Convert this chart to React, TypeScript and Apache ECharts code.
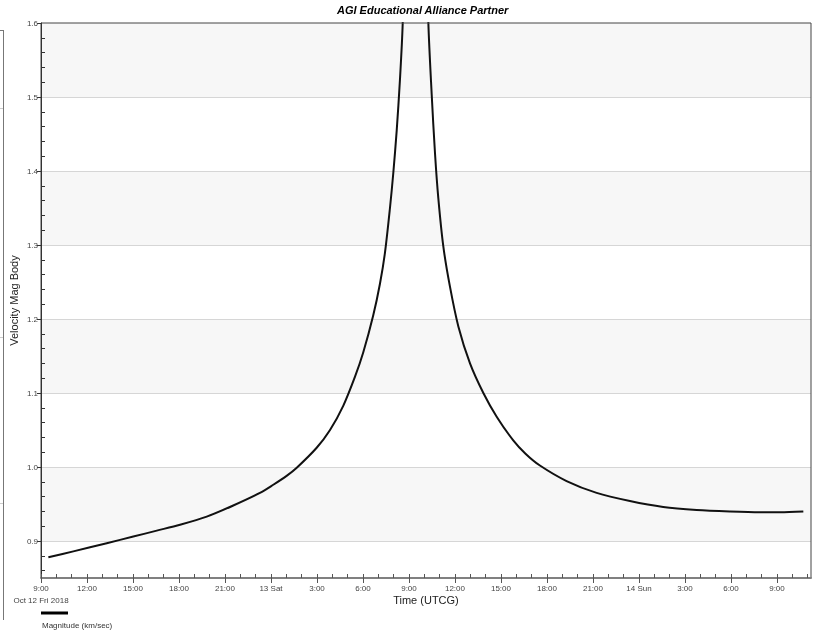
import React, { useEffect, useRef } from "react";
import * as echarts from "echarts";

// Hours since 2018-10-12 09:00 UTCG, and velocity magnitude (km/sec)
const hours = [
  0.48, 2.11, 4.29, 6.02, 7.55, 9.07, 10.81, 12.54, 14.28, 15.15, 16.02, 16.68,
  17.98, 18.85, 19.72, 20.48, 21.02, 21.67, 22.11, 22.43, 22.76, 22.98, 23.2,
  23.41, 23.59, 23.9, 24.2, 24.45, 24.7, 25.0, 25.26, 25.48, 25.7, 25.91, 26.24,
  26.67, 27.22, 27.98, 28.85, 29.72, 30.8, 31.6, 32.54, 34.28, 36.24, 38.41,
  40.58, 42.76, 44.93, 46.89, 48.2, 49.72,
];
const velocity = [
  0.878, 0.886, 0.897, 0.906, 0.914, 0.922, 0.933, 0.948, 0.965, 0.976, 0.988,
  0.999, 1.026, 1.05, 1.083, 1.122, 1.155, 1.205, 1.248, 1.289, 1.35, 1.398,
  1.455, 1.523, 1.599, 1.85, 2.2, 2.35, 2.2, 1.85, 1.603, 1.504, 1.423, 1.364,
  1.298, 1.244, 1.19, 1.14, 1.1, 1.068, 1.036, 1.018, 1.002, 0.981, 0.965,
  0.954, 0.946, 0.942, 0.94, 0.939, 0.939, 0.94,
];

const xTickHours = [0, 3, 6, 9, 12, 15, 18, 21, 24, 27, 30, 33, 36, 39, 42, 45, 48];
const xTickLabels = [
  "9:00\nOct 12 Fri 2018", "12:00", "15:00", "18:00", "21:00", "13 Sat", "3:00",
  "6:00", "9:00", "12:00", "15:00", "18:00", "21:00", "14 Sun", "3:00", "6:00", "9:00",
];
const yTickValues = [0.9, 1.0, 1.1, 1.2, 1.3, 1.4, 1.5, 1.6];
const yGridValues = [0.9, 1.0, 1.1, 1.2, 1.3, 1.4, 1.5];
const yBands = [
  [0.9, 1.0],
  [1.1, 1.2],
  [1.3, 1.4],
  [1.5, 1.6],
];
const xMin = 0;
const xMax = 50.22;
const yMin = 0.85;
const yMax = 1.6;

const FONT = "'Liberation Sans', Arial, sans-serif";

export default function App() {
  const ref = useRef<HTMLDivElement>(null);

  useEffect(() => {
    if (!ref.current) return;
    const chart = echarts.init(ref.current, undefined, { renderer: "svg" });

    const yMinor: number[] = [];
    for (let i = 86; i < 160; i += 2) {
      if (i % 10 !== 0) yMinor.push(i / 100);
    }
    const xMinor: number[] = [];
    for (let h = 0; h <= 50; h++) xMinor.push(h);

    const data = hours.map((h, i) => [h, velocity[i]]);

    chart.setOption({
      animation: false,
      title: {
        text: "AGI Educational Alliance Partner",
        left: 337,
        top: 4,
        padding: 0,
        textStyle: {
          fontFamily: FONT,
          fontSize: 11,
          fontWeight: "bold",
          fontStyle: "italic",
          color: "#000",
        },
      },
      grid: {
        left: 41,
        right: 3,
        top: 23,
        bottom: 56,
        show: true,
        z: 4,
        borderColor: "#444",
        borderWidth: 1,
        backgroundColor: "transparent",
        containLabel: false,
        outerBoundsMode: "none",
      },
      xAxis: [
        {
          type: "value",
          min: xMin,
          max: xMax,
          z: 5,
          name: "Time (UTCG)",
          nameLocation: "middle",
          nameGap: 16,
          nameMoveOverlap: false,
          nameTextStyle: { fontFamily: FONT, fontSize: 11, color: "#222" },
          axisLine: { show: true, lineStyle: { color: "#808080", width: 2 } },
          axisTick: {
            show: true,
            inside: false,
            length: 5,
            customValues: xTickHours,
            lineStyle: { color: "#555", width: 1 },
          },
          axisLabel: {
            customValues: xTickHours,
            fontFamily: FONT,
            fontSize: 8,
            color: "#444",
            margin: 4,
            lineHeight: 12,
            formatter: (v: number) => {
              const idx = xTickHours.findIndex((h) => Math.abs(h - v) < 1e-6);
              return idx >= 0 ? xTickLabels[idx] : "";
            },
          },
          splitLine: { show: false },
        },
        {
          type: "value",
          min: xMin,
          max: xMax,
          z: 5,
          position: "bottom",
          offset: 0,
          axisLine: { show: false },
          axisLabel: { show: false },
          splitLine: { show: false },
          axisTick: {
            show: true,
            inside: true,
            length: 4,
            customValues: xMinor,
            lineStyle: { color: "#555", width: 1 },
          },
        },
      ],
      yAxis: [
        {
          type: "value",
          min: yMin,
          max: yMax,
          z: 5,
          name: "Velocity Mag Body",
          nameLocation: "middle",
          nameRotate: 90,
          nameGap: 22,
          nameMoveOverlap: false,
          nameTextStyle: { fontFamily: FONT, fontSize: 11, color: "#222" },
          axisLine: { show: true, lineStyle: { color: "#333", width: 1 } },
          axisTick: {
            show: true,
            inside: false,
            length: 4,
            customValues: yTickValues,
            lineStyle: { color: "#333", width: 1 },
          },
          axisLabel: {
            customValues: yTickValues,
            fontFamily: FONT,
            fontSize: 8,
            color: "#444",
            margin: 3,
            formatter: (v: number) => v.toFixed(1),
          },
          splitLine: { show: false },
          splitArea: { show: false },
        },
        {
          type: "value",
          min: yMin,
          max: yMax,
          z: 5,
          position: "left",
          offset: 0,
          axisLine: { show: false },
          axisLabel: { show: false },
          splitLine: { show: false },
          axisTick: {
            show: true,
            inside: true,
            length: 4,
            customValues: yMinor,
            lineStyle: { color: "#333", width: 1 },
          },
        },
      ],
      series: [
        {
          name: "Magnitude (km/sec)",
          type: "line",
          data,
          xAxisIndex: 0,
          yAxisIndex: 0,
          showSymbol: false,
          smooth: 0.3,
          clip: true,
          z: 3,
          lineStyle: { color: "#111", width: 2, join: "round" },
          markArea: {
            silent: true,
            z: 1,
            itemStyle: { color: "#f7f7f7" },
            data: yBands.map((b) => [{ yAxis: b[0] }, { yAxis: b[1] }]),
          },
          markLine: {
            silent: true,
            z: 1,
            symbol: "none",
            label: { show: false },
            lineStyle: { color: "#d6d6d6", width: 1, type: "solid" },
            data: yGridValues.map((v) => ({ yAxis: v })),
          },
        },
      ],
      graphic: [
        {
          type: "line",
          shape: { x1: 3.5, y1: 30, x2: 3.5, y2: 620 },
          style: { stroke: "#777", lineWidth: 1 },
        },
        {
          type: "line",
          shape: { x1: 0, y1: 30.5, x2: 4, y2: 30.5 },
          style: { stroke: "#777", lineWidth: 1 },
        },
        {
          type: "line",
          shape: { x1: 0, y1: 108.5, x2: 3, y2: 108.5 },
          style: { stroke: "#ccc", lineWidth: 1 },
        },
        {
          type: "line",
          shape: { x1: 0, y1: 337.5, x2: 3, y2: 337.5 },
          style: { stroke: "#ccc", lineWidth: 1 },
        },
        {
          type: "line",
          shape: { x1: 0, y1: 503.5, x2: 3, y2: 503.5 },
          style: { stroke: "#ccc", lineWidth: 1 },
        },
        {
          type: "rect",
          shape: { x: 41, y: 611.5, width: 27, height: 3 },
          style: { fill: "#000" },
        },
        {
          type: "text",
          x: 42,
          y: 621,
          style: {
            text: "Magnitude (km/sec)",
            fontFamily: FONT,
            fontSize: 8,
            fill: "#333",
          },
        },
      ],
    });

    return () => chart.dispose();
  }, []);

  return (
    <div
      ref={ref}
      style={{ position: "fixed", left: 0, top: 0, width: 814, height: 634 }}
    />
  );
}
